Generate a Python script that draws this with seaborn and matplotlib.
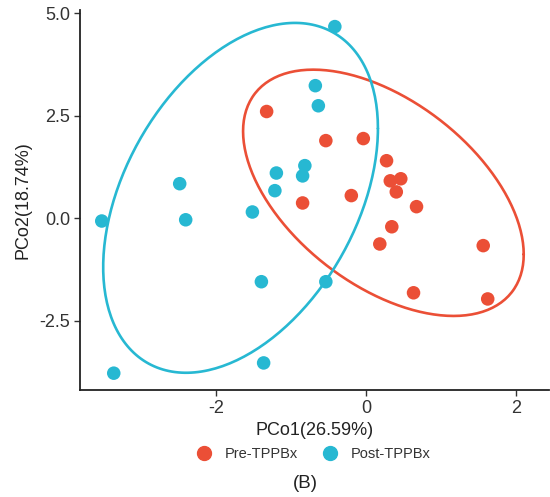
import numpy as np
import pandas as pd
import matplotlib
matplotlib.use("Agg")
import matplotlib.pyplot as plt
import seaborn as sns

groups = ["Pre-TPPBx", "Post-TPPBx"]
colors = ["#EB4F36", "#27B8D2"]

pre_x = [-1.33, -0.54, -0.04, 0.27, 0.32, 0.46, 0.40, -0.20, -0.85, 0.67, 0.34, 0.18, 1.56, 0.63, 1.62]
pre_y = [2.60, 1.89, 1.94, 1.40, 0.91, 0.96, 0.64, 0.55, 0.37, 0.28, -0.21, -0.63, -0.67, -1.82, -1.97]
post_x = [-0.42, -0.68, -0.64, -1.20, -1.22, -0.82, -0.85, -1.52, -2.49, -2.41, -3.53, -3.37, -1.40, -1.37, -0.54]
post_y = [4.67, 3.23, 2.74, 1.10, 0.67, 1.28, 1.03, 0.15, 0.84, -0.04, -0.07, -3.78, -1.55, -3.53, -1.55]

# 95% ellipses (per group: centre and squared half-spread matrix)
ell_center_x = [0.228, -1.678]
ell_center_y = [0.618, 0.495]
ell_var_x = [3.506, 3.36]
ell_var_y = [9.015, 18.19]
ell_cov_xy = [-2.81, 3.10]

x_ticks = [-2, 0, 2]
y_ticks = [-2.5, 0.0, 2.5, 5.0]
y_tick_labels = ["-2.5", "0.0", "2.5", "5.0"]

df = pd.DataFrame({
    "PCo1": pre_x + post_x,
    "PCo2": pre_y + post_y,
    "group": [groups[0]] * len(pre_x) + [groups[1]] * len(post_x),
})

plt.rcParams["font.family"] = ["Liberation Sans", "DejaVu Sans"]

fig = plt.figure(figsize=(5.5, 4.97), dpi=100)
ax = fig.add_axes([0.1455, 0.2153, 0.853, 0.765])

ang = np.linspace(0, 2 * np.pi, 241)
unit = np.column_stack([np.cos(ang), np.sin(ang)])
for i, c in enumerate(colors):
    M = np.array([[ell_var_x[i], ell_cov_xy[i]], [ell_cov_xy[i], ell_var_y[i]]])
    R = np.linalg.cholesky(M).T
    E = np.array([ell_center_x[i], ell_center_y[i]]) + unit @ R
    ax.plot(E[:, 0], E[:, 1], color=c, lw=1.9, zorder=1, solid_capstyle="round")

sns.scatterplot(data=df, x="PCo1", y="PCo2", hue="group", hue_order=groups,
                palette=colors, s=95, edgecolor="none", linewidth=0, ax=ax,
                legend=False, zorder=2)

ax.set_xlim(-3.82, 2.44)
ax.set_ylim(-4.19, 5.08)
ax.set_xticks(x_ticks)
ax.set_xticklabels([str(t) for t in x_ticks])
ax.set_yticks(y_ticks)
ax.set_yticklabels(y_tick_labels)
for s in ["top", "right"]:
    ax.spines[s].set_visible(False)
for s in ["left", "bottom"]:
    ax.spines[s].set_linewidth(1.3)
    ax.spines[s].set_color("#222222")
ax.tick_params(axis="both", length=4, width=1.0, color="#333333",
               labelsize=13, labelcolor="#333333", pad=3)
ax.set_xlabel("PCo1(26.59%)", fontsize=13, color="#222222", labelpad=4)
ax.set_ylabel("PCo2(18.74%)", fontsize=13, color="#222222", labelpad=6)

handles = [plt.Line2D([], [], marker="o", ls="", color=c, markersize=10) for c in colors]
fig.legend(handles, groups, loc="center", bbox_to_anchor=(310 / 550, 1 - 454 / 497),
           ncol=2, frameon=False, fontsize=10.5, handletextpad=0.4, columnspacing=1.2,
           labelcolor="#333333")
fig.text(305 / 550, 1 - 483 / 497, "(B)", ha="center", va="center", fontsize=13.5, color="#222222")

fig.savefig("out.png", dpi=100)
